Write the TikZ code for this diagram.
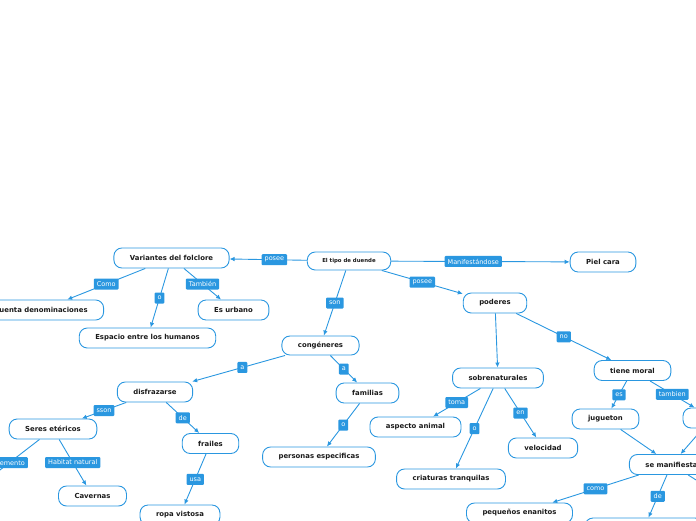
\documentclass[tikz,border=0pt]{standalone}
\usepackage{fontspec}
\setmainfont{DejaVu Sans}
\usepackage{xcolor}
\usepackage{tikz}
\usetikzlibrary{arrows.meta}
\definecolor{mapblue}{HTML}{2A97E0}
\definecolor{mapink}{HTML}{1B1B1B}

\begin{document}
\begin{tikzpicture}[x=1pt, y=-1pt, >={Latex[length=5pt,width=4.5pt]},
    idea/.style={draw=mapblue, line width=0.9pt, fill=white, rounded corners=8pt, minimum height=20pt, inner xsep=16pt, text=mapink, font=\bfseries\fontsize{6.9}{8}\selectfont},
    link/.style={->, draw=mapblue, line width=0.9pt},
    lbl/.style={fill=mapblue, text=white, rounded corners=1pt, inner xsep=3pt, inner ysep=0pt, minimum height=11pt, font=\fontsize{6.5}{7}\selectfont}]
    \useasboundingbox (0,0) rectangle (696,520);
    \clip (0,0) rectangle (696,520);

    \node[idea, minimum height=18pt, inner xsep=15pt, font=\bfseries\fontsize{5.4}{6}\selectfont] (root) at (349,261) {El tipo de duende};
    \node[idea] (variantes) at (171.5,258) {Variantes del folclore};
    \node[idea] (cuenta) at (41,310) {Cuenta denominaciones};
    \node[idea] (espacio) at (147.5,338) {Espacio entre los humanos};
    \node[idea] (urbano) at (233.5,310) {Es urbano};
    \node[idea] (piel) at (603,262) {Piel cara};
    \node[idea] (poderes) at (495,303) {poderes};
    \node[idea, minimum height=19pt] (congeneres) at (320.5,345.5) {congéneres};
    \node[idea] (disfrazarse) at (155,392) {disfrazarse};
    \node[idea] (familias) at (367.5,393) {familias};
    \node[idea] (personas) at (319,457) {personas especificas};
    \node[idea] (seres) at (53,429) {Seres etéricos};
    \coordinate (elemento) at (-26,490);
    \node[idea] (cavernas) at (92.5,496) {Cavernas};
    \node[idea] (frailes) at (210.5,443.5) {frailes};
    \node[idea] (ropa) at (180,515) {ropa vistosa};
    \node[idea] (sobrenat) at (498,378) {sobrenaturales};
    \node[idea] (aspecto) at (415.5,427) {aspecto animal};
    \node[idea] (criaturas) at (451,479) {criaturas tranquilas};
    \node[idea] (velocidad) at (543,448) {velocidad};
    \node[idea] (moral) at (632.5,370.5) {tiene moral};
    \node[idea] (jugueton) at (605.5,419) {jugueton};
    \node[idea, minimum width=58pt] (derecha) at (712,418) {};
    \node[idea] (manifiesta) at (671.5,464.5) {se manifiesta};
    \node[idea] (enanitos) at (519.5,513) {pequeños enanitos};
    \node[idea, minimum width=118pt] (abajo) at (644,528) {};
    \coordinate (fuera) at (720,495);

    \draw[link] (root) -- node[lbl, pos=0.42] {posee} (variantes);
    \draw[link] (root) -- node[lbl, pos=0.46] {Manifestándose} (piel);
    \draw[link] (root) -- node[lbl] {posee} (poderes);
    \draw[link] (root) -- node[lbl] {son} (congeneres);
    \draw[link] (variantes) -- node[lbl] {Como} (cuenta);
    \draw[link] (variantes) -- node[lbl] {o} (espacio);
    \draw[link] (variantes) -- node[lbl] {También} (urbano);
    \draw[link] (congeneres) -- node[lbl, pos=0.46] {a} (disfrazarse);
    \draw[link] (congeneres) -- node[lbl] {a} (familias);
    \draw[link] (familias) -- node[lbl] {o} (personas);
    \draw[link] (disfrazarse) -- node[lbl] {sson} (seres);
    \draw[link] (disfrazarse) -- node[lbl] {de} (frailes);
    \draw[link] (frailes) -- node[lbl] {usa} (ropa);
    \draw[link] (seres) -- node[lbl, pos=0.46] {Elemento} (elemento);
    \draw[link] (seres) -- node[lbl] {Habitat natural} (cavernas);
    \draw[link] (poderes) -- (sobrenat);
    \draw[link] (poderes) -- node[lbl] {no} (moral);
    \draw[link] (sobrenat) -- node[lbl] {toma} (aspecto);
    \draw[link] (sobrenat) -- node[lbl] {o} (criaturas);
    \draw[link] (sobrenat) -- node[lbl] {en} (velocidad);
    \draw[link] (moral) -- node[lbl] {es} (jugueton);
    \draw[link] (moral) -- node[lbl] {tambien} (derecha);
    \draw[link] (jugueton) -- (manifiesta);
    \draw[link] (derecha) -- (manifiesta);
    \draw[link] (manifiesta) -- node[lbl] {como} (enanitos);
    \draw[link] (manifiesta) -- node[lbl] {de} (abajo);
    \draw[link] (manifiesta) -- (fuera);
\end{tikzpicture}
\end{document}
